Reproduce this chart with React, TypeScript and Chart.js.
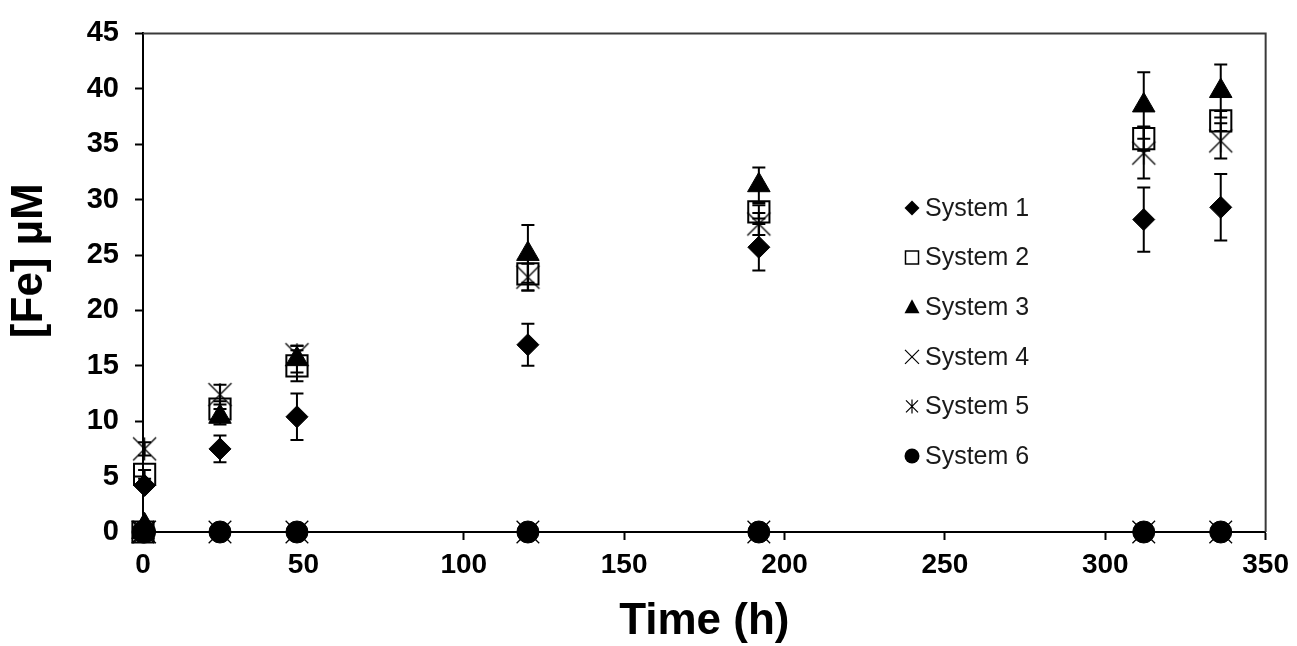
import React, { useEffect, useRef } from 'react';
import { Chart, registerables } from 'chart.js';

Chart.register(...registerables);

// ---- Data ----
const times = [0, 0.5, 24, 48, 120, 192, 312, 336];
const seriesNames = ['System 1', 'System 2', 'System 3', 'System 4', 'System 5', 'System 6'];

const system1 = [0, 4.2, 7.5, 10.4, 16.9, 25.7, 28.2, 29.3];
const system1Err = [0, 0, 1.2, 2.1, 1.9, 2.1, 2.9, 3.0];
const system2 = [0, 5.2, 11.1, 15.0, 23.3, 28.9, 35.5, 37.1];
const system2Err = [0, 0.4, 0.7, 1.4, 1.5, 0.6, 1.1, 0.9];
const system3 = [0, 0.6, 10.4, 15.6, 25.1, 31.3, 38.5, 39.8];
const system3Err = [0, 0, 0.7, 1.2, 2.6, 1.6, 3.0, 2.4];
const system4 = [0, 0, 0, 0, 0, 0, 0, 0];
const system4Err = [0, 0, 0, 0, 0, 0, 0, 0];
const system5: (number | null)[] = [null, 7.5, 12.4, 16.0, 23.0, 27.8, 34.2, 35.3];
const system5Err = [0, 0.6, 0.9, 0.8, 1.2, 1.0, 2.3, 1.6];
const system6 = [0, 0, 0, 0, 0, 0, 0, 0];
const system6Err = [0, 0, 0, 0, 0, 0, 0, 0];

const xTicks = [0, 50, 100, 150, 200, 250, 300, 350];
const yTicks = [0, 5, 10, 15, 20, 25, 30, 35, 40, 45];
const xTitle = 'Time (h)';
const yTitle = '[Fe] µM';

const allValues: (number | null)[][] = [system1, system2, system3, system4, system5, system6];
const allErrors: number[][] = [system1Err, system2Err, system3Err, system4Err, system5Err, system6Err];

const FONT = '"Liberation Sans", Arial, Helvetica, sans-serif';

function makeAsterisk(half: number, lw: number): HTMLCanvasElement {
  const s = Math.ceil(half * 2 + 4);
  const c = document.createElement('canvas');
  c.width = s;
  c.height = s;
  const g = c.getContext('2d')!;
  g.strokeStyle = '#000';
  g.lineWidth = lw;
  const m = s / 2;
  g.beginPath();
  g.moveTo(m - half, m - half); g.lineTo(m + half, m + half);
  g.moveTo(m + half, m - half); g.lineTo(m - half, m + half);
  g.moveTo(m, m - half); g.lineTo(m, m + half);
  g.stroke();
  return c;
}

function drawLegendMarker(ctx: CanvasRenderingContext2D, idx: number, x: number, y: number) {
  ctx.save();
  ctx.fillStyle = '#000';
  ctx.strokeStyle = '#000';
  ctx.beginPath();
  if (idx === 0) {
    const r = 7.5;
    ctx.moveTo(x, y - r); ctx.lineTo(x + r, y); ctx.lineTo(x, y + r); ctx.lineTo(x - r, y); ctx.closePath();
    ctx.fill();
  } else if (idx === 1) {
    ctx.lineWidth = 1.5;
    ctx.rect(x - 6.5, y - 6.5, 13, 13);
    ctx.stroke();
  } else if (idx === 2) {
    ctx.moveTo(x, y - 8); ctx.lineTo(x + 7.5, y + 6); ctx.lineTo(x - 7.5, y + 6); ctx.closePath();
    ctx.fill();
  } else if (idx === 3) {
    ctx.lineWidth = 1.2;
    const d = 7;
    ctx.moveTo(x - d, y - d); ctx.lineTo(x + d, y + d);
    ctx.moveTo(x + d, y - d); ctx.lineTo(x - d, y + d);
    ctx.stroke();
  } else if (idx === 4) {
    ctx.lineWidth = 1.2;
    const d = 6;
    ctx.moveTo(x - d, y - d); ctx.lineTo(x + d, y + d);
    ctx.moveTo(x + d, y - d); ctx.lineTo(x - d, y + d);
    ctx.moveTo(x, y - d - 1); ctx.lineTo(x, y + d + 1);
    ctx.stroke();
  } else {
    ctx.arc(x, y, 7.5, 0, Math.PI * 2);
    ctx.fill();
  }
  ctx.restore();
}

const framePlugin = {
  id: 'frameBox',
  beforeDatasetsDraw(chart: any) {
    const { ctx, chartArea } = chart;
    ctx.save();
    ctx.strokeStyle = '#3a3a3a';
    ctx.lineWidth = 2;
    ctx.beginPath();
    ctx.moveTo(chartArea.left, chartArea.top);
    ctx.lineTo(chartArea.right, chartArea.top);
    ctx.lineTo(chartArea.right, chartArea.bottom);
    ctx.stroke();
    ctx.restore();
  },
};

const errorBarPlugin = {
  id: 'errorBars',
  afterDatasetsDraw(chart: any) {
    const { ctx, scales } = chart;
    const xs = scales.x;
    const ys = scales.y;
    ctx.save();
    ctx.strokeStyle = '#000';
    ctx.lineWidth = 2;
    allValues.forEach((vals, di) => {
      const errs = allErrors[di];
      vals.forEach((v, i) => {
        const e = errs[i];
        if (v === null || v === undefined || !e) return;
        const px = xs.getPixelForValue(times[i]);
        const top = ys.getPixelForValue(v + e);
        const bot = ys.getPixelForValue(v - e);
        ctx.beginPath();
        ctx.moveTo(px, top); ctx.lineTo(px, bot);
        ctx.moveTo(px - 6.5, top); ctx.lineTo(px + 6.5, top);
        ctx.moveTo(px - 6.5, bot); ctx.lineTo(px + 6.5, bot);
        ctx.stroke();
      });
    });
    ctx.restore();
  },
};

const yTitlePlugin = {
  id: 'yTitle',
  afterDraw(chart: any) {
    const { ctx, chartArea } = chart;
    ctx.save();
    ctx.translate(30, (chartArea.top + chartArea.bottom) / 2 - 22);
    ctx.rotate(-Math.PI / 2);
    ctx.font = `bold 44px ${FONT}`;
    ctx.fillStyle = '#000';
    ctx.textAlign = 'center';
    ctx.textBaseline = 'middle';
    ctx.fillText(yTitle, 0, 0);
    ctx.restore();
  },
};

const legendPlugin = {
  id: 'customLegend',
  afterDraw(chart: any) {
    const { ctx, chartArea } = chart;
    const markerX = chartArea.left + 769;
    const textX = chartArea.left + 782;
    const startY = 208;
    const step = 49.6;
    ctx.save();
    ctx.font = `25px ${FONT}`;
    ctx.fillStyle = '#1a1a1a';
    ctx.textAlign = 'left';
    ctx.textBaseline = 'middle';
    seriesNames.forEach((name, i) => {
      const y = startY + i * step;
      drawLegendMarker(ctx, i, markerX, y);
      ctx.fillText(name, textX, y + 1);
    });
    ctx.restore();
  },
};

export default function App() {
  const canvasRef = useRef<HTMLCanvasElement | null>(null);

  useEffect(() => {
    document.body.style.margin = '0';
    const canvas = canvasRef.current;
    if (!canvas) return;

    const asterisk = makeAsterisk(11.5, 1.3);
    const styles: any[] = ['rectRot', 'rect', 'triangle', 'crossRot', asterisk, 'circle'];
    const radii = [11, 15, 13, 16, 11.5, 11];
    const fills = ['#000', 'rgba(0,0,0,0)', '#000', '#000', '#000', '#000'];
    const borderWidths = [1, 2, 1, 1.3, 1, 1];

    const datasets = allValues.map((vals, di) => ({
      label: seriesNames[di],
      data: times
        .map((t, i) => ({ x: t, y: vals[i] }))
        .filter((p) => p.y !== null && p.y !== undefined),
      showLine: false,
      pointStyle: styles[di],
      pointRadius: radii[di],
      pointHoverRadius: radii[di],
      pointBackgroundColor: fills[di],
      pointBorderColor: '#000',
      pointBorderWidth: borderWidths[di],
      clip: false as any,
      order: 5 - di,
    }));

    const chart = new Chart(canvas, {
      type: 'scatter',
      data: { datasets },
      plugins: [framePlugin, errorBarPlugin, legendPlugin, yTitlePlugin],
      options: {
        responsive: false,
        animation: false,
        devicePixelRatio: 1,
        layout: { padding: { left: 0, right: 31, top: 30, bottom: 0 } },
        plugins: {
          legend: { display: false },
          tooltip: { enabled: false },
        },
        scales: {
          x: {
            type: 'linear',
            min: 0,
            max: 350,
            afterBuildTicks: (scale: any) => {
              scale.ticks = xTicks.map((v) => ({ value: v }));
            },
            afterFit: (scale: any) => {
              scale.height = 114;
            },
            grid: {
              display: true,
              drawOnChartArea: false,
              drawTicks: true,
              tickLength: 8,
              tickWidth: 2,
              tickColor: '#000',
            },
            border: { display: true, color: '#000', width: 2 },
            ticks: {
              padding: 8,
              color: '#000',
              font: { family: FONT, size: 28, weight: 'bold' },
              maxRotation: 0,
            },
            title: {
              display: true,
              text: xTitle,
              color: '#000',
              font: { family: FONT, size: 44, weight: 'bold', lineHeight: 1.1 },
              padding: { top: 0, bottom: 0 },
            },
          },
          y: {
            type: 'linear',
            min: 0,
            max: 45,
            afterBuildTicks: (scale: any) => {
              scale.ticks = yTicks.map((v) => ({ value: v }));
            },
            afterFit: (scale: any) => {
              scale.width = 143;
            },
            grid: {
              display: true,
              drawOnChartArea: false,
              drawTicks: true,
              tickLength: 8,
              tickWidth: 2,
              tickColor: '#000',
            },
            border: { display: true, color: '#000', width: 2 },
            ticks: {
              padding: 16,
              color: '#000',
              font: { family: FONT, size: 29, weight: 'bold' },
            },
            title: { display: false },
          },
        },
      } as any,
    });

    return () => {
      chart.destroy();
    };
  }, []);

  return (
    <div style={{ width: 1297, height: 646, position: 'relative', background: '#fff' }}>
      <canvas ref={canvasRef} width={1297} height={646} style={{ width: 1297, height: 646, display: 'block' }} />
    </div>
  );
}
